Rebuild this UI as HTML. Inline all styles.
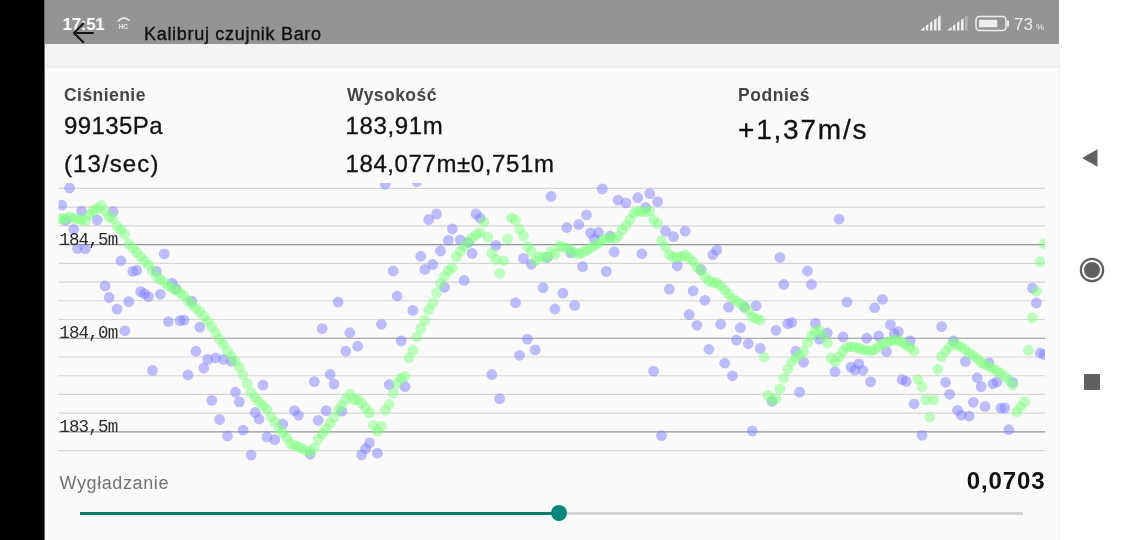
<!DOCTYPE html>
<html><head><meta charset="utf-8">
<style>
*{margin:0;padding:0;box-sizing:border-box}
html,body{width:1124px;height:540px;overflow:hidden;background:#fff;font-family:"Liberation Sans",sans-serif}
#blk{position:absolute;left:0;top:0;width:44px;height:540px;background:#000}
#app{position:absolute;left:44px;top:0;width:1015px;height:540px;background:#fafafa;overflow:hidden}
#sb{position:absolute;left:0;top:0;width:1015px;height:44px;background:#949494}
#tb{position:absolute;left:0;top:44px;width:1015px;height:22px;background:#f4f4f4;box-shadow:0 1px 2px rgba(0,0,0,.10)}
.t{position:absolute;white-space:nowrap;line-height:1}
#time{left:18.5px;top:15.5px;font-size:17px;font-weight:bold;color:#fff;letter-spacing:-0.3px}
#title{left:100px;top:25px;font-size:18px;color:#111;letter-spacing:0.7px;-webkit-text-stroke:0.35px #111}
.lbl{font-size:17.5px;font-weight:bold;color:#444}
.val{font-size:24px;color:#111;-webkit-text-stroke:0.3px #111}
#nav{position:absolute;left:1060px;top:0;width:64px;height:540px;background:#fff}
.mono{font-family:"DejaVu Sans Mono",monospace;font-size:16px;color:#333}
</style></head><body>
<div id="blk"></div>
<div id="app">
  <div id="tb"></div>
  <div id="sb"></div>
  <div class="t" id="time">17:51</div>
  <svg style="position:absolute;left:0;top:0" width="1015" height="66">
    <!-- HC icon -->
    <path d="M73.8 21.5 Q79 15.5 85.5 20.5" stroke="#e6e6e6" stroke-width="1.7" fill="none"/>
    <text x="74.6" y="28.6" font-family="Liberation Sans" font-size="6.6" font-weight="bold" fill="#e6e6e6">HC</text>
    <!-- back arrow -->
    <path d="M30 32.9 H49.7 M39.8 23 L30 32.9 L39.8 42.7" stroke="#111" stroke-width="2" fill="none"/>
    <!-- signal icons -->
    <g><polygon points="876.1,30.4 880.6,26.7 880.6,30.4" fill="#f0f0f0"/><polygon points="881.9,25.8 884.3,24.1 884.3,30.4 881.9,30.4" fill="#f0f0f0"/><polygon points="886.0,22.8 888.4,21.1 888.4,30.4 886.0,30.4" fill="#f0f0f0"/><polygon points="890.0,20.0 892.6,18.1 892.6,30.4 890.0,30.4" fill="#f0f0f0"/><polygon points="894.0,17.1 896.6,15.2 896.6,30.4 894.0,30.4" fill="#f0f0f0"/><polygon points="903.1,30.4 907.6,26.7 907.6,30.4" fill="#f0f0f0"/><polygon points="908.9,25.8 911.3,24.1 911.3,30.4 908.9,30.4" fill="#f0f0f0"/><polygon points="913.0,22.8 915.4,21.1 915.4,30.4 913.0,30.4" fill="#f0f0f0"/><polygon points="917.0,20.0 919.6,18.1 919.6,30.4 917.0,30.4" fill="#f0f0f0"/><polygon points="921.0,17.1 923.6,15.2 923.6,30.4 921.0,30.4" fill="#b4b4b4"/></g>
    <rect x="932" y="16.5" width="30" height="14" rx="3.5" fill="none" stroke="#eee" stroke-width="1.5"/>
    <rect x="935" y="19.8" width="18.2" height="7.5" fill="#eee"/>
    <rect x="963" y="20.5" width="2" height="6" fill="#eee"/>
    <text x="970" y="30" font-family="Liberation Sans" font-size="17" fill="#eee">73</text>
    <text x="992" y="30" font-family="Liberation Sans" font-size="9" fill="#eee">%</text>
  </svg>
  <div class="t" id="title">Kalibruj czujnik Baro</div>

  <div class="t lbl" style="left:20px;top:86.5px;letter-spacing:0.45px">Ciśnienie</div>
  <div class="t val" style="left:20px;top:114px;letter-spacing:0.4px">99135Pa</div>
  <div class="t val" style="left:20px;top:151.8px;letter-spacing:1.1px">(13/sec)</div>

  <div class="t lbl" style="left:303px;top:86.5px;letter-spacing:0.45px">Wysokość</div>
  <div class="t val" style="left:301.5px;top:114px;letter-spacing:0.65px">183,91m</div>
  <div class="t val" style="left:301.5px;top:151.8px;letter-spacing:0.6px">184,077m±0,751m</div>

  <div class="t lbl" style="left:694px;top:86.5px;letter-spacing:0.55px">Podnieś</div>
  <div class="t val" style="left:694px;top:116px;font-size:28px;letter-spacing:1.8px">+1,37m/s</div>

  <svg id="chart" style="position:absolute;left:0;top:0" width="1015" height="540">
    <defs><clipPath id="cp"><rect x="14.5" y="183" width="986.5" height="300"/></clipPath></defs>
    <g id="grid"><line x1="14.5" x2="1001" y1="188.40" y2="188.40" stroke="#d5d5d5" stroke-width="1.15"/><line x1="14.5" x2="1001" y1="207.13" y2="207.13" stroke="#d5d5d5" stroke-width="1.15"/><line x1="14.5" x2="1001" y1="225.86" y2="225.86" stroke="#d5d5d5" stroke-width="1.15"/><line x1="14.5" x2="1001" y1="244.59" y2="244.59" stroke="#939393" stroke-width="1.15"/><line x1="14.5" x2="1001" y1="263.32" y2="263.32" stroke="#d5d5d5" stroke-width="1.15"/><line x1="14.5" x2="1001" y1="282.05" y2="282.05" stroke="#d5d5d5" stroke-width="1.15"/><line x1="14.5" x2="1001" y1="300.78" y2="300.78" stroke="#d5d5d5" stroke-width="1.15"/><line x1="14.5" x2="1001" y1="319.51" y2="319.51" stroke="#d5d5d5" stroke-width="1.15"/><line x1="14.5" x2="1001" y1="338.24" y2="338.24" stroke="#939393" stroke-width="1.15"/><line x1="14.5" x2="1001" y1="356.97" y2="356.97" stroke="#d5d5d5" stroke-width="1.15"/><line x1="14.5" x2="1001" y1="375.70" y2="375.70" stroke="#d5d5d5" stroke-width="1.15"/><line x1="14.5" x2="1001" y1="394.43" y2="394.43" stroke="#d5d5d5" stroke-width="1.15"/><line x1="14.5" x2="1001" y1="413.16" y2="413.16" stroke="#d5d5d5" stroke-width="1.15"/><line x1="14.5" x2="1001" y1="431.89" y2="431.89" stroke="#939393" stroke-width="1.15"/><line x1="14.5" x2="1001" y1="450.62" y2="450.62" stroke="#d5d5d5" stroke-width="1.15"/></g>
    <g clip-path="url(#cp)"><circle cx="17.7" cy="205.1" r="5.4" fill="rgba(128,128,255,0.5)"/><circle cx="21.7" cy="220.4" r="5.4" fill="rgba(128,128,255,0.5)"/><circle cx="25.6" cy="188.0" r="5.4" fill="rgba(128,128,255,0.5)"/><circle cx="29.6" cy="229.3" r="5.4" fill="rgba(128,128,255,0.5)"/><circle cx="33.5" cy="248.6" r="5.4" fill="rgba(128,128,255,0.5)"/><circle cx="37.5" cy="211.2" r="5.4" fill="rgba(128,128,255,0.5)"/><circle cx="41.4" cy="248.6" r="5.4" fill="rgba(128,128,255,0.5)"/><circle cx="53.2" cy="219.9" r="5.4" fill="rgba(128,128,255,0.5)"/><circle cx="61.1" cy="286.0" r="5.4" fill="rgba(128,128,255,0.5)"/><circle cx="65.1" cy="297.5" r="5.4" fill="rgba(128,128,255,0.5)"/><circle cx="69.0" cy="211.6" r="5.4" fill="rgba(128,128,255,0.5)"/><circle cx="73.0" cy="309.1" r="5.4" fill="rgba(128,128,255,0.5)"/><circle cx="76.9" cy="260.8" r="5.4" fill="rgba(128,128,255,0.5)"/><circle cx="80.9" cy="330.8" r="5.4" fill="rgba(128,128,255,0.5)"/><circle cx="84.8" cy="301.6" r="5.4" fill="rgba(128,128,255,0.5)"/><circle cx="88.8" cy="271.4" r="5.4" fill="rgba(128,128,255,0.5)"/><circle cx="92.7" cy="270.4" r="5.4" fill="rgba(128,128,255,0.5)"/><circle cx="96.7" cy="291.6" r="5.4" fill="rgba(128,128,255,0.5)"/><circle cx="100.6" cy="293.8" r="5.4" fill="rgba(128,128,255,0.5)"/><circle cx="104.5" cy="296.6" r="5.4" fill="rgba(128,128,255,0.5)"/><circle cx="108.5" cy="370.4" r="5.4" fill="rgba(128,128,255,0.5)"/><circle cx="112.4" cy="271.4" r="5.4" fill="rgba(128,128,255,0.5)"/><circle cx="116.4" cy="294.3" r="5.4" fill="rgba(128,128,255,0.5)"/><circle cx="120.3" cy="253.8" r="5.4" fill="rgba(128,128,255,0.5)"/><circle cx="124.3" cy="321.6" r="5.4" fill="rgba(128,128,255,0.5)"/><circle cx="128.2" cy="283.2" r="5.4" fill="rgba(128,128,255,0.5)"/><circle cx="132.2" cy="289.2" r="5.4" fill="rgba(128,128,255,0.5)"/><circle cx="136.1" cy="320.6" r="5.4" fill="rgba(128,128,255,0.5)"/><circle cx="140.1" cy="320.1" r="5.4" fill="rgba(128,128,255,0.5)"/><circle cx="144.0" cy="374.9" r="5.4" fill="rgba(128,128,255,0.5)"/><circle cx="147.9" cy="301.2" r="5.4" fill="rgba(128,128,255,0.5)"/><circle cx="151.9" cy="351.2" r="5.4" fill="rgba(128,128,255,0.5)"/><circle cx="155.8" cy="327.1" r="5.4" fill="rgba(128,128,255,0.5)"/><circle cx="159.8" cy="368.0" r="5.4" fill="rgba(128,128,255,0.5)"/><circle cx="163.7" cy="359.5" r="5.4" fill="rgba(128,128,255,0.5)"/><circle cx="167.7" cy="400.4" r="5.4" fill="rgba(128,128,255,0.5)"/><circle cx="171.6" cy="358.0" r="5.4" fill="rgba(128,128,255,0.5)"/><circle cx="175.6" cy="419.5" r="5.4" fill="rgba(128,128,255,0.5)"/><circle cx="179.5" cy="359.5" r="5.4" fill="rgba(128,128,255,0.5)"/><circle cx="183.5" cy="436.0" r="5.4" fill="rgba(128,128,255,0.5)"/><circle cx="187.4" cy="361.4" r="5.4" fill="rgba(128,128,255,0.5)"/><circle cx="191.4" cy="392.1" r="5.4" fill="rgba(128,128,255,0.5)"/><circle cx="195.3" cy="401.9" r="5.4" fill="rgba(128,128,255,0.5)"/><circle cx="199.2" cy="430.1" r="5.4" fill="rgba(128,128,255,0.5)"/><circle cx="207.1" cy="455.1" r="5.4" fill="rgba(128,128,255,0.5)"/><circle cx="211.1" cy="412.5" r="5.4" fill="rgba(128,128,255,0.5)"/><circle cx="215.0" cy="419.0" r="5.4" fill="rgba(128,128,255,0.5)"/><circle cx="219.0" cy="385.1" r="5.4" fill="rgba(128,128,255,0.5)"/><circle cx="222.9" cy="436.9" r="5.4" fill="rgba(128,128,255,0.5)"/><circle cx="230.8" cy="439.7" r="5.4" fill="rgba(128,128,255,0.5)"/><circle cx="238.7" cy="424.1" r="5.4" fill="rgba(128,128,255,0.5)"/><circle cx="250.5" cy="410.6" r="5.4" fill="rgba(128,128,255,0.5)"/><circle cx="254.5" cy="415.3" r="5.4" fill="rgba(128,128,255,0.5)"/><circle cx="266.3" cy="454.1" r="5.4" fill="rgba(128,128,255,0.5)"/><circle cx="270.3" cy="381.6" r="5.4" fill="rgba(128,128,255,0.5)"/><circle cx="274.2" cy="420.3" r="5.4" fill="rgba(128,128,255,0.5)"/><circle cx="278.2" cy="328.6" r="5.4" fill="rgba(128,128,255,0.5)"/><circle cx="282.1" cy="410.6" r="5.4" fill="rgba(128,128,255,0.5)"/><circle cx="286.1" cy="374.5" r="5.4" fill="rgba(128,128,255,0.5)"/><circle cx="290.0" cy="384.1" r="5.4" fill="rgba(128,128,255,0.5)"/><circle cx="294.0" cy="302.1" r="5.4" fill="rgba(128,128,255,0.5)"/><circle cx="297.9" cy="411.2" r="5.4" fill="rgba(128,128,255,0.5)"/><circle cx="301.8" cy="351.2" r="5.4" fill="rgba(128,128,255,0.5)"/><circle cx="305.8" cy="332.7" r="5.4" fill="rgba(128,128,255,0.5)"/><circle cx="313.7" cy="346.2" r="5.4" fill="rgba(128,128,255,0.5)"/><circle cx="317.6" cy="455.0" r="5.4" fill="rgba(128,128,255,0.5)"/><circle cx="321.6" cy="448.6" r="5.4" fill="rgba(128,128,255,0.5)"/><circle cx="325.5" cy="443.0" r="5.4" fill="rgba(128,128,255,0.5)"/><circle cx="333.4" cy="453.2" r="5.4" fill="rgba(128,128,255,0.5)"/><circle cx="337.4" cy="324.3" r="5.4" fill="rgba(128,128,255,0.5)"/><circle cx="341.3" cy="184.3" r="5.4" fill="rgba(128,128,255,0.5)"/><circle cx="345.2" cy="384.7" r="5.4" fill="rgba(128,128,255,0.5)"/><circle cx="349.2" cy="271.0" r="5.4" fill="rgba(128,128,255,0.5)"/><circle cx="353.1" cy="296.0" r="5.4" fill="rgba(128,128,255,0.5)"/><circle cx="357.1" cy="341.0" r="5.4" fill="rgba(128,128,255,0.5)"/><circle cx="361.0" cy="386.6" r="5.4" fill="rgba(128,128,255,0.5)"/><circle cx="368.9" cy="310.4" r="5.4" fill="rgba(128,128,255,0.5)"/><circle cx="372.9" cy="181.6" r="5.4" fill="rgba(128,128,255,0.5)"/><circle cx="376.8" cy="256.2" r="5.4" fill="rgba(128,128,255,0.5)"/><circle cx="380.8" cy="269.5" r="5.4" fill="rgba(128,128,255,0.5)"/><circle cx="384.7" cy="219.5" r="5.4" fill="rgba(128,128,255,0.5)"/><circle cx="388.7" cy="264.5" r="5.4" fill="rgba(128,128,255,0.5)"/><circle cx="392.6" cy="214.0" r="5.4" fill="rgba(128,128,255,0.5)"/><circle cx="396.5" cy="251.0" r="5.4" fill="rgba(128,128,255,0.5)"/><circle cx="400.5" cy="287.3" r="5.4" fill="rgba(128,128,255,0.5)"/><circle cx="404.4" cy="240.3" r="5.4" fill="rgba(128,128,255,0.5)"/><circle cx="408.4" cy="228.8" r="5.4" fill="rgba(128,128,255,0.5)"/><circle cx="416.3" cy="239.9" r="5.4" fill="rgba(128,128,255,0.5)"/><circle cx="420.2" cy="280.4" r="5.4" fill="rgba(128,128,255,0.5)"/><circle cx="424.2" cy="242.7" r="5.4" fill="rgba(128,128,255,0.5)"/><circle cx="428.1" cy="253.4" r="5.4" fill="rgba(128,128,255,0.5)"/><circle cx="432.1" cy="214.0" r="5.4" fill="rgba(128,128,255,0.5)"/><circle cx="436.0" cy="218.2" r="5.4" fill="rgba(128,128,255,0.5)"/><circle cx="447.8" cy="374.5" r="5.4" fill="rgba(128,128,255,0.5)"/><circle cx="451.8" cy="245.4" r="5.4" fill="rgba(128,128,255,0.5)"/><circle cx="455.7" cy="398.6" r="5.4" fill="rgba(128,128,255,0.5)"/><circle cx="471.5" cy="302.7" r="5.4" fill="rgba(128,128,255,0.5)"/><circle cx="475.5" cy="355.3" r="5.4" fill="rgba(128,128,255,0.5)"/><circle cx="479.4" cy="258.4" r="5.4" fill="rgba(128,128,255,0.5)"/><circle cx="483.4" cy="339.1" r="5.4" fill="rgba(128,128,255,0.5)"/><circle cx="487.3" cy="264.3" r="5.4" fill="rgba(128,128,255,0.5)"/><circle cx="491.2" cy="349.9" r="5.4" fill="rgba(128,128,255,0.5)"/><circle cx="499.1" cy="287.7" r="5.4" fill="rgba(128,128,255,0.5)"/><circle cx="503.1" cy="257.5" r="5.4" fill="rgba(128,128,255,0.5)"/><circle cx="507.0" cy="196.4" r="5.4" fill="rgba(128,128,255,0.5)"/><circle cx="511.0" cy="309.0" r="5.4" fill="rgba(128,128,255,0.5)"/><circle cx="518.9" cy="293.2" r="5.4" fill="rgba(128,128,255,0.5)"/><circle cx="522.8" cy="227.5" r="5.4" fill="rgba(128,128,255,0.5)"/><circle cx="526.8" cy="252.9" r="5.4" fill="rgba(128,128,255,0.5)"/><circle cx="530.7" cy="305.4" r="5.4" fill="rgba(128,128,255,0.5)"/><circle cx="534.7" cy="224.5" r="5.4" fill="rgba(128,128,255,0.5)"/><circle cx="538.6" cy="266.7" r="5.4" fill="rgba(128,128,255,0.5)"/><circle cx="542.5" cy="214.9" r="5.4" fill="rgba(128,128,255,0.5)"/><circle cx="546.5" cy="233.0" r="5.4" fill="rgba(128,128,255,0.5)"/><circle cx="550.4" cy="239.0" r="5.4" fill="rgba(128,128,255,0.5)"/><circle cx="554.4" cy="232.5" r="5.4" fill="rgba(128,128,255,0.5)"/><circle cx="558.3" cy="189.0" r="5.4" fill="rgba(128,128,255,0.5)"/><circle cx="562.3" cy="271.4" r="5.4" fill="rgba(128,128,255,0.5)"/><circle cx="566.2" cy="236.2" r="5.4" fill="rgba(128,128,255,0.5)"/><circle cx="570.2" cy="251.9" r="5.4" fill="rgba(128,128,255,0.5)"/><circle cx="574.1" cy="200.1" r="5.4" fill="rgba(128,128,255,0.5)"/><circle cx="582.0" cy="202.9" r="5.4" fill="rgba(128,128,255,0.5)"/><circle cx="593.8" cy="197.7" r="5.4" fill="rgba(128,128,255,0.5)"/><circle cx="597.8" cy="253.8" r="5.4" fill="rgba(128,128,255,0.5)"/><circle cx="601.7" cy="207.5" r="5.4" fill="rgba(128,128,255,0.5)"/><circle cx="605.7" cy="193.6" r="5.4" fill="rgba(128,128,255,0.5)"/><circle cx="609.6" cy="371.2" r="5.4" fill="rgba(128,128,255,0.5)"/><circle cx="613.6" cy="201.6" r="5.4" fill="rgba(128,128,255,0.5)"/><circle cx="617.5" cy="435.6" r="5.4" fill="rgba(128,128,255,0.5)"/><circle cx="621.5" cy="231.2" r="5.4" fill="rgba(128,128,255,0.5)"/><circle cx="625.4" cy="289.1" r="5.4" fill="rgba(128,128,255,0.5)"/><circle cx="629.4" cy="236.6" r="5.4" fill="rgba(128,128,255,0.5)"/><circle cx="633.3" cy="265.8" r="5.4" fill="rgba(128,128,255,0.5)"/><circle cx="641.2" cy="231.2" r="5.4" fill="rgba(128,128,255,0.5)"/><circle cx="645.1" cy="314.5" r="5.4" fill="rgba(128,128,255,0.5)"/><circle cx="649.1" cy="291.0" r="5.4" fill="rgba(128,128,255,0.5)"/><circle cx="653.0" cy="325.3" r="5.4" fill="rgba(128,128,255,0.5)"/><circle cx="657.0" cy="269.5" r="5.4" fill="rgba(128,128,255,0.5)"/><circle cx="660.9" cy="300.3" r="5.4" fill="rgba(128,128,255,0.5)"/><circle cx="664.9" cy="349.3" r="5.4" fill="rgba(128,128,255,0.5)"/><circle cx="668.8" cy="254.7" r="5.4" fill="rgba(128,128,255,0.5)"/><circle cx="672.8" cy="250.1" r="5.4" fill="rgba(128,128,255,0.5)"/><circle cx="676.7" cy="324.3" r="5.4" fill="rgba(128,128,255,0.5)"/><circle cx="680.7" cy="363.2" r="5.4" fill="rgba(128,128,255,0.5)"/><circle cx="684.6" cy="307.1" r="5.4" fill="rgba(128,128,255,0.5)"/><circle cx="688.5" cy="375.8" r="5.4" fill="rgba(128,128,255,0.5)"/><circle cx="692.5" cy="340.1" r="5.4" fill="rgba(128,128,255,0.5)"/><circle cx="696.4" cy="327.7" r="5.4" fill="rgba(128,128,255,0.5)"/><circle cx="700.4" cy="307.1" r="5.4" fill="rgba(128,128,255,0.5)"/><circle cx="704.3" cy="343.8" r="5.4" fill="rgba(128,128,255,0.5)"/><circle cx="708.3" cy="431.0" r="5.4" fill="rgba(128,128,255,0.5)"/><circle cx="712.2" cy="305.8" r="5.4" fill="rgba(128,128,255,0.5)"/><circle cx="716.2" cy="348.4" r="5.4" fill="rgba(128,128,255,0.5)"/><circle cx="728.0" cy="401.4" r="5.4" fill="rgba(128,128,255,0.5)"/><circle cx="732.0" cy="330.3" r="5.4" fill="rgba(128,128,255,0.5)"/><circle cx="735.9" cy="257.5" r="5.4" fill="rgba(128,128,255,0.5)"/><circle cx="739.8" cy="284.5" r="5.4" fill="rgba(128,128,255,0.5)"/><circle cx="743.8" cy="323.8" r="5.4" fill="rgba(128,128,255,0.5)"/><circle cx="747.7" cy="322.5" r="5.4" fill="rgba(128,128,255,0.5)"/><circle cx="751.7" cy="351.2" r="5.4" fill="rgba(128,128,255,0.5)"/><circle cx="755.6" cy="392.1" r="5.4" fill="rgba(128,128,255,0.5)"/><circle cx="759.6" cy="362.3" r="5.4" fill="rgba(128,128,255,0.5)"/><circle cx="763.5" cy="271.0" r="5.4" fill="rgba(128,128,255,0.5)"/><circle cx="767.5" cy="284.5" r="5.4" fill="rgba(128,128,255,0.5)"/><circle cx="771.4" cy="323.4" r="5.4" fill="rgba(128,128,255,0.5)"/><circle cx="775.4" cy="339.1" r="5.4" fill="rgba(128,128,255,0.5)"/><circle cx="783.3" cy="333.0" r="5.4" fill="rgba(128,128,255,0.5)"/><circle cx="791.1" cy="371.7" r="5.4" fill="rgba(128,128,255,0.5)"/><circle cx="795.1" cy="219.1" r="5.4" fill="rgba(128,128,255,0.5)"/><circle cx="799.0" cy="336.9" r="5.4" fill="rgba(128,128,255,0.5)"/><circle cx="803.0" cy="302.1" r="5.4" fill="rgba(128,128,255,0.5)"/><circle cx="806.9" cy="367.1" r="5.4" fill="rgba(128,128,255,0.5)"/><circle cx="810.9" cy="369.9" r="5.4" fill="rgba(128,128,255,0.5)"/><circle cx="814.8" cy="363.8" r="5.4" fill="rgba(128,128,255,0.5)"/><circle cx="818.8" cy="370.3" r="5.4" fill="rgba(128,128,255,0.5)"/><circle cx="822.7" cy="338.2" r="5.4" fill="rgba(128,128,255,0.5)"/><circle cx="826.7" cy="381.9" r="5.4" fill="rgba(128,128,255,0.5)"/><circle cx="830.6" cy="307.7" r="5.4" fill="rgba(128,128,255,0.5)"/><circle cx="834.6" cy="336.0" r="5.4" fill="rgba(128,128,255,0.5)"/><circle cx="838.5" cy="299.3" r="5.4" fill="rgba(128,128,255,0.5)"/><circle cx="842.4" cy="351.6" r="5.4" fill="rgba(128,128,255,0.5)"/><circle cx="846.4" cy="324.9" r="5.4" fill="rgba(128,128,255,0.5)"/><circle cx="850.3" cy="333.6" r="5.4" fill="rgba(128,128,255,0.5)"/><circle cx="854.3" cy="331.7" r="5.4" fill="rgba(128,128,255,0.5)"/><circle cx="858.2" cy="379.7" r="5.4" fill="rgba(128,128,255,0.5)"/><circle cx="862.2" cy="381.4" r="5.4" fill="rgba(128,128,255,0.5)"/><circle cx="866.1" cy="341.0" r="5.4" fill="rgba(128,128,255,0.5)"/><circle cx="870.1" cy="403.8" r="5.4" fill="rgba(128,128,255,0.5)"/><circle cx="878.0" cy="435.3" r="5.4" fill="rgba(128,128,255,0.5)"/><circle cx="897.7" cy="326.6" r="5.4" fill="rgba(128,128,255,0.5)"/><circle cx="901.6" cy="382.3" r="5.4" fill="rgba(128,128,255,0.5)"/><circle cx="905.6" cy="394.3" r="5.4" fill="rgba(128,128,255,0.5)"/><circle cx="909.5" cy="341.0" r="5.4" fill="rgba(128,128,255,0.5)"/><circle cx="913.5" cy="410.3" r="5.4" fill="rgba(128,128,255,0.5)"/><circle cx="917.4" cy="415.3" r="5.4" fill="rgba(128,128,255,0.5)"/><circle cx="921.4" cy="361.5" r="5.4" fill="rgba(128,128,255,0.5)"/><circle cx="925.3" cy="416.2" r="5.4" fill="rgba(128,128,255,0.5)"/><circle cx="929.3" cy="402.3" r="5.4" fill="rgba(128,128,255,0.5)"/><circle cx="933.2" cy="377.7" r="5.4" fill="rgba(128,128,255,0.5)"/><circle cx="937.1" cy="386.6" r="5.4" fill="rgba(128,128,255,0.5)"/><circle cx="941.1" cy="406.4" r="5.4" fill="rgba(128,128,255,0.5)"/><circle cx="945.0" cy="363.0" r="5.4" fill="rgba(128,128,255,0.5)"/><circle cx="949.0" cy="383.8" r="5.4" fill="rgba(128,128,255,0.5)"/><circle cx="952.9" cy="381.9" r="5.4" fill="rgba(128,128,255,0.5)"/><circle cx="956.9" cy="408.2" r="5.4" fill="rgba(128,128,255,0.5)"/><circle cx="960.8" cy="407.9" r="5.4" fill="rgba(128,128,255,0.5)"/><circle cx="964.8" cy="429.7" r="5.4" fill="rgba(128,128,255,0.5)"/><circle cx="968.7" cy="382.3" r="5.4" fill="rgba(128,128,255,0.5)"/><circle cx="988.4" cy="288.2" r="5.4" fill="rgba(128,128,255,0.5)"/><circle cx="992.4" cy="303.0" r="5.4" fill="rgba(128,128,255,0.5)"/><circle cx="996.3" cy="353.0" r="5.4" fill="rgba(128,128,255,0.5)"/><circle cx="1000.3" cy="354.5" r="5.4" fill="rgba(128,128,255,0.5)"/><circle cx="13.8" cy="218.7" r="5.4" fill="rgba(128,255,128,0.5)"/><circle cx="17.7" cy="219.0" r="5.4" fill="rgba(128,255,128,0.5)"/><circle cx="21.7" cy="218.4" r="5.4" fill="rgba(128,255,128,0.5)"/><circle cx="25.6" cy="216.9" r="5.4" fill="rgba(128,255,128,0.5)"/><circle cx="29.6" cy="218.1" r="5.4" fill="rgba(128,255,128,0.5)"/><circle cx="33.5" cy="219.1" r="5.4" fill="rgba(128,255,128,0.5)"/><circle cx="37.5" cy="219.7" r="5.4" fill="rgba(128,255,128,0.5)"/><circle cx="41.4" cy="220.8" r="5.4" fill="rgba(128,255,128,0.5)"/><circle cx="45.4" cy="214.5" r="5.4" fill="rgba(128,255,128,0.5)"/><circle cx="49.3" cy="210.9" r="5.4" fill="rgba(128,255,128,0.5)"/><circle cx="53.2" cy="208.7" r="5.4" fill="rgba(128,255,128,0.5)"/><circle cx="57.2" cy="205.4" r="5.4" fill="rgba(128,255,128,0.5)"/><circle cx="61.1" cy="211.3" r="5.4" fill="rgba(128,255,128,0.5)"/><circle cx="65.1" cy="216.9" r="5.4" fill="rgba(128,255,128,0.5)"/><circle cx="69.0" cy="219.0" r="5.4" fill="rgba(128,255,128,0.5)"/><circle cx="73.0" cy="226.3" r="5.4" fill="rgba(128,255,128,0.5)"/><circle cx="76.9" cy="229.6" r="5.4" fill="rgba(128,255,128,0.5)"/><circle cx="80.9" cy="234.3" r="5.4" fill="rgba(128,255,128,0.5)"/><circle cx="84.8" cy="243.7" r="5.4" fill="rgba(128,255,128,0.5)"/><circle cx="88.8" cy="248.1" r="5.4" fill="rgba(128,255,128,0.5)"/><circle cx="92.7" cy="252.1" r="5.4" fill="rgba(128,255,128,0.5)"/><circle cx="96.7" cy="256.8" r="5.4" fill="rgba(128,255,128,0.5)"/><circle cx="100.6" cy="260.9" r="5.4" fill="rgba(128,255,128,0.5)"/><circle cx="104.5" cy="264.8" r="5.4" fill="rgba(128,255,128,0.5)"/><circle cx="108.5" cy="270.7" r="5.4" fill="rgba(128,255,128,0.5)"/><circle cx="112.4" cy="276.3" r="5.4" fill="rgba(128,255,128,0.5)"/><circle cx="116.4" cy="279.4" r="5.4" fill="rgba(128,255,128,0.5)"/><circle cx="120.3" cy="282.5" r="5.4" fill="rgba(128,255,128,0.5)"/><circle cx="124.3" cy="285.8" r="5.4" fill="rgba(128,255,128,0.5)"/><circle cx="128.2" cy="288.0" r="5.4" fill="rgba(128,255,128,0.5)"/><circle cx="132.2" cy="290.0" r="5.4" fill="rgba(128,255,128,0.5)"/><circle cx="136.1" cy="292.9" r="5.4" fill="rgba(128,255,128,0.5)"/><circle cx="140.1" cy="295.9" r="5.4" fill="rgba(128,255,128,0.5)"/><circle cx="144.0" cy="300.6" r="5.4" fill="rgba(128,255,128,0.5)"/><circle cx="147.9" cy="304.4" r="5.4" fill="rgba(128,255,128,0.5)"/><circle cx="151.9" cy="307.9" r="5.4" fill="rgba(128,255,128,0.5)"/><circle cx="155.8" cy="311.7" r="5.4" fill="rgba(128,255,128,0.5)"/><circle cx="159.8" cy="316.1" r="5.4" fill="rgba(128,255,128,0.5)"/><circle cx="163.7" cy="321.4" r="5.4" fill="rgba(128,255,128,0.5)"/><circle cx="167.7" cy="326.7" r="5.4" fill="rgba(128,255,128,0.5)"/><circle cx="171.6" cy="332.7" r="5.4" fill="rgba(128,255,128,0.5)"/><circle cx="175.6" cy="339.1" r="5.4" fill="rgba(128,255,128,0.5)"/><circle cx="179.5" cy="344.3" r="5.4" fill="rgba(128,255,128,0.5)"/><circle cx="183.5" cy="350.8" r="5.4" fill="rgba(128,255,128,0.5)"/><circle cx="187.4" cy="356.9" r="5.4" fill="rgba(128,255,128,0.5)"/><circle cx="191.4" cy="361.2" r="5.4" fill="rgba(128,255,128,0.5)"/><circle cx="195.3" cy="367.1" r="5.4" fill="rgba(128,255,128,0.5)"/><circle cx="199.2" cy="375.0" r="5.4" fill="rgba(128,255,128,0.5)"/><circle cx="203.2" cy="383.6" r="5.4" fill="rgba(128,255,128,0.5)"/><circle cx="207.1" cy="392.4" r="5.4" fill="rgba(128,255,128,0.5)"/><circle cx="211.1" cy="397.8" r="5.4" fill="rgba(128,255,128,0.5)"/><circle cx="215.0" cy="402.0" r="5.4" fill="rgba(128,255,128,0.5)"/><circle cx="219.0" cy="405.4" r="5.4" fill="rgba(128,255,128,0.5)"/><circle cx="222.9" cy="409.3" r="5.4" fill="rgba(128,255,128,0.5)"/><circle cx="226.9" cy="416.8" r="5.4" fill="rgba(128,255,128,0.5)"/><circle cx="230.8" cy="421.9" r="5.4" fill="rgba(128,255,128,0.5)"/><circle cx="234.8" cy="428.2" r="5.4" fill="rgba(128,255,128,0.5)"/><circle cx="238.7" cy="432.5" r="5.4" fill="rgba(128,255,128,0.5)"/><circle cx="242.7" cy="437.7" r="5.4" fill="rgba(128,255,128,0.5)"/><circle cx="246.6" cy="443.7" r="5.4" fill="rgba(128,255,128,0.5)"/><circle cx="250.5" cy="445.5" r="5.4" fill="rgba(128,255,128,0.5)"/><circle cx="254.5" cy="446.8" r="5.4" fill="rgba(128,255,128,0.5)"/><circle cx="258.4" cy="448.8" r="5.4" fill="rgba(128,255,128,0.5)"/><circle cx="262.4" cy="450.8" r="5.4" fill="rgba(128,255,128,0.5)"/><circle cx="266.3" cy="451.9" r="5.4" fill="rgba(128,255,128,0.5)"/><circle cx="270.3" cy="447.8" r="5.4" fill="rgba(128,255,128,0.5)"/><circle cx="274.2" cy="439.3" r="5.4" fill="rgba(128,255,128,0.5)"/><circle cx="278.2" cy="433.7" r="5.4" fill="rgba(128,255,128,0.5)"/><circle cx="282.1" cy="428.9" r="5.4" fill="rgba(128,255,128,0.5)"/><circle cx="286.1" cy="423.4" r="5.4" fill="rgba(128,255,128,0.5)"/><circle cx="290.0" cy="417.6" r="5.4" fill="rgba(128,255,128,0.5)"/><circle cx="294.0" cy="410.1" r="5.4" fill="rgba(128,255,128,0.5)"/><circle cx="297.9" cy="405.2" r="5.4" fill="rgba(128,255,128,0.5)"/><circle cx="301.8" cy="399.4" r="5.4" fill="rgba(128,255,128,0.5)"/><circle cx="305.8" cy="394.1" r="5.4" fill="rgba(128,255,128,0.5)"/><circle cx="309.7" cy="399.5" r="5.4" fill="rgba(128,255,128,0.5)"/><circle cx="313.7" cy="399.5" r="5.4" fill="rgba(128,255,128,0.5)"/><circle cx="317.6" cy="403.1" r="5.4" fill="rgba(128,255,128,0.5)"/><circle cx="321.6" cy="408.1" r="5.4" fill="rgba(128,255,128,0.5)"/><circle cx="325.5" cy="412.9" r="5.4" fill="rgba(128,255,128,0.5)"/><circle cx="329.5" cy="425.3" r="5.4" fill="rgba(128,255,128,0.5)"/><circle cx="333.4" cy="430.9" r="5.4" fill="rgba(128,255,128,0.5)"/><circle cx="337.4" cy="426.3" r="5.4" fill="rgba(128,255,128,0.5)"/><circle cx="341.3" cy="410.3" r="5.4" fill="rgba(128,255,128,0.5)"/><circle cx="345.2" cy="404.4" r="5.4" fill="rgba(128,255,128,0.5)"/><circle cx="349.2" cy="393.0" r="5.4" fill="rgba(128,255,128,0.5)"/><circle cx="353.1" cy="383.4" r="5.4" fill="rgba(128,255,128,0.5)"/><circle cx="357.1" cy="378.0" r="5.4" fill="rgba(128,255,128,0.5)"/><circle cx="361.0" cy="376.5" r="5.4" fill="rgba(128,255,128,0.5)"/><circle cx="365.0" cy="357.9" r="5.4" fill="rgba(128,255,128,0.5)"/><circle cx="368.9" cy="350.4" r="5.4" fill="rgba(128,255,128,0.5)"/><circle cx="372.9" cy="336.9" r="5.4" fill="rgba(128,255,128,0.5)"/><circle cx="376.8" cy="328.4" r="5.4" fill="rgba(128,255,128,0.5)"/><circle cx="380.8" cy="320.4" r="5.4" fill="rgba(128,255,128,0.5)"/><circle cx="384.7" cy="309.9" r="5.4" fill="rgba(128,255,128,0.5)"/><circle cx="388.7" cy="303.1" r="5.4" fill="rgba(128,255,128,0.5)"/><circle cx="392.6" cy="292.9" r="5.4" fill="rgba(128,255,128,0.5)"/><circle cx="396.5" cy="283.4" r="5.4" fill="rgba(128,255,128,0.5)"/><circle cx="400.5" cy="276.1" r="5.4" fill="rgba(128,255,128,0.5)"/><circle cx="404.4" cy="270.7" r="5.4" fill="rgba(128,255,128,0.5)"/><circle cx="408.4" cy="267.9" r="5.4" fill="rgba(128,255,128,0.5)"/><circle cx="412.3" cy="256.8" r="5.4" fill="rgba(128,255,128,0.5)"/><circle cx="416.3" cy="251.1" r="5.4" fill="rgba(128,255,128,0.5)"/><circle cx="420.2" cy="246.2" r="5.4" fill="rgba(128,255,128,0.5)"/><circle cx="424.2" cy="242.0" r="5.4" fill="rgba(128,255,128,0.5)"/><circle cx="428.1" cy="238.1" r="5.4" fill="rgba(128,255,128,0.5)"/><circle cx="432.1" cy="234.7" r="5.4" fill="rgba(128,255,128,0.5)"/><circle cx="436.0" cy="232.7" r="5.4" fill="rgba(128,255,128,0.5)"/><circle cx="440.0" cy="222.0" r="5.4" fill="rgba(128,255,128,0.5)"/><circle cx="443.9" cy="237.1" r="5.4" fill="rgba(128,255,128,0.5)"/><circle cx="447.8" cy="253.0" r="5.4" fill="rgba(128,255,128,0.5)"/><circle cx="451.8" cy="259.6" r="5.4" fill="rgba(128,255,128,0.5)"/><circle cx="455.7" cy="273.3" r="5.4" fill="rgba(128,255,128,0.5)"/><circle cx="459.7" cy="260.7" r="5.4" fill="rgba(128,255,128,0.5)"/><circle cx="463.6" cy="238.8" r="5.4" fill="rgba(128,255,128,0.5)"/><circle cx="467.6" cy="218.0" r="5.4" fill="rgba(128,255,128,0.5)"/><circle cx="471.5" cy="219.9" r="5.4" fill="rgba(128,255,128,0.5)"/><circle cx="475.5" cy="229.1" r="5.4" fill="rgba(128,255,128,0.5)"/><circle cx="479.4" cy="235.6" r="5.4" fill="rgba(128,255,128,0.5)"/><circle cx="483.4" cy="246.3" r="5.4" fill="rgba(128,255,128,0.5)"/><circle cx="487.3" cy="251.5" r="5.4" fill="rgba(128,255,128,0.5)"/><circle cx="491.2" cy="261.1" r="5.4" fill="rgba(128,255,128,0.5)"/><circle cx="495.2" cy="256.6" r="5.4" fill="rgba(128,255,128,0.5)"/><circle cx="499.1" cy="256.9" r="5.4" fill="rgba(128,255,128,0.5)"/><circle cx="503.1" cy="257.5" r="5.4" fill="rgba(128,255,128,0.5)"/><circle cx="507.0" cy="252.0" r="5.4" fill="rgba(128,255,128,0.5)"/><circle cx="511.0" cy="254.4" r="5.4" fill="rgba(128,255,128,0.5)"/><circle cx="514.9" cy="245.8" r="5.4" fill="rgba(128,255,128,0.5)"/><circle cx="518.9" cy="246.9" r="5.4" fill="rgba(128,255,128,0.5)"/><circle cx="522.8" cy="248.3" r="5.4" fill="rgba(128,255,128,0.5)"/><circle cx="526.8" cy="250.1" r="5.4" fill="rgba(128,255,128,0.5)"/><circle cx="530.7" cy="252.8" r="5.4" fill="rgba(128,255,128,0.5)"/><circle cx="534.7" cy="253.6" r="5.4" fill="rgba(128,255,128,0.5)"/><circle cx="538.6" cy="252.5" r="5.4" fill="rgba(128,255,128,0.5)"/><circle cx="542.5" cy="250.4" r="5.4" fill="rgba(128,255,128,0.5)"/><circle cx="546.5" cy="248.1" r="5.4" fill="rgba(128,255,128,0.5)"/><circle cx="550.4" cy="245.8" r="5.4" fill="rgba(128,255,128,0.5)"/><circle cx="554.4" cy="243.3" r="5.4" fill="rgba(128,255,128,0.5)"/><circle cx="558.3" cy="240.7" r="5.4" fill="rgba(128,255,128,0.5)"/><circle cx="562.3" cy="238.5" r="5.4" fill="rgba(128,255,128,0.5)"/><circle cx="566.2" cy="237.5" r="5.4" fill="rgba(128,255,128,0.5)"/><circle cx="570.2" cy="238.8" r="5.4" fill="rgba(128,255,128,0.5)"/><circle cx="574.1" cy="236.3" r="5.4" fill="rgba(128,255,128,0.5)"/><circle cx="578.1" cy="229.8" r="5.4" fill="rgba(128,255,128,0.5)"/><circle cx="582.0" cy="225.7" r="5.4" fill="rgba(128,255,128,0.5)"/><circle cx="586.0" cy="219.6" r="5.4" fill="rgba(128,255,128,0.5)"/><circle cx="589.9" cy="213.3" r="5.4" fill="rgba(128,255,128,0.5)"/><circle cx="593.8" cy="211.1" r="5.4" fill="rgba(128,255,128,0.5)"/><circle cx="597.8" cy="211.7" r="5.4" fill="rgba(128,255,128,0.5)"/><circle cx="601.7" cy="211.7" r="5.4" fill="rgba(128,255,128,0.5)"/><circle cx="605.7" cy="210.8" r="5.4" fill="rgba(128,255,128,0.5)"/><circle cx="609.6" cy="219.5" r="5.4" fill="rgba(128,255,128,0.5)"/><circle cx="613.6" cy="223.4" r="5.4" fill="rgba(128,255,128,0.5)"/><circle cx="617.5" cy="240.6" r="5.4" fill="rgba(128,255,128,0.5)"/><circle cx="621.5" cy="247.0" r="5.4" fill="rgba(128,255,128,0.5)"/><circle cx="625.4" cy="254.5" r="5.4" fill="rgba(128,255,128,0.5)"/><circle cx="629.4" cy="257.0" r="5.4" fill="rgba(128,255,128,0.5)"/><circle cx="633.3" cy="257.5" r="5.4" fill="rgba(128,255,128,0.5)"/><circle cx="637.3" cy="256.7" r="5.4" fill="rgba(128,255,128,0.5)"/><circle cx="641.2" cy="254.8" r="5.4" fill="rgba(128,255,128,0.5)"/><circle cx="645.1" cy="257.8" r="5.4" fill="rgba(128,255,128,0.5)"/><circle cx="649.1" cy="261.6" r="5.4" fill="rgba(128,255,128,0.5)"/><circle cx="653.0" cy="267.3" r="5.4" fill="rgba(128,255,128,0.5)"/><circle cx="657.0" cy="270.7" r="5.4" fill="rgba(128,255,128,0.5)"/><circle cx="660.9" cy="276.8" r="5.4" fill="rgba(128,255,128,0.5)"/><circle cx="664.9" cy="280.5" r="5.4" fill="rgba(128,255,128,0.5)"/><circle cx="668.8" cy="282.6" r="5.4" fill="rgba(128,255,128,0.5)"/><circle cx="672.8" cy="282.7" r="5.4" fill="rgba(128,255,128,0.5)"/><circle cx="676.7" cy="285.6" r="5.4" fill="rgba(128,255,128,0.5)"/><circle cx="680.7" cy="290.3" r="5.4" fill="rgba(128,255,128,0.5)"/><circle cx="684.6" cy="293.7" r="5.4" fill="rgba(128,255,128,0.5)"/><circle cx="688.5" cy="298.4" r="5.4" fill="rgba(128,255,128,0.5)"/><circle cx="692.5" cy="301.1" r="5.4" fill="rgba(128,255,128,0.5)"/><circle cx="696.4" cy="303.7" r="5.4" fill="rgba(128,255,128,0.5)"/><circle cx="700.4" cy="306.6" r="5.4" fill="rgba(128,255,128,0.5)"/><circle cx="704.3" cy="310.6" r="5.4" fill="rgba(128,255,128,0.5)"/><circle cx="708.3" cy="317.1" r="5.4" fill="rgba(128,255,128,0.5)"/><circle cx="712.2" cy="318.6" r="5.4" fill="rgba(128,255,128,0.5)"/><circle cx="716.2" cy="320.2" r="5.4" fill="rgba(128,255,128,0.5)"/><circle cx="720.1" cy="357.2" r="5.4" fill="rgba(128,255,128,0.5)"/><circle cx="724.1" cy="395.4" r="5.4" fill="rgba(128,255,128,0.5)"/><circle cx="728.0" cy="400.5" r="5.4" fill="rgba(128,255,128,0.5)"/><circle cx="732.0" cy="398.6" r="5.4" fill="rgba(128,255,128,0.5)"/><circle cx="735.9" cy="388.8" r="5.4" fill="rgba(128,255,128,0.5)"/><circle cx="739.8" cy="378.1" r="5.4" fill="rgba(128,255,128,0.5)"/><circle cx="743.8" cy="369.3" r="5.4" fill="rgba(128,255,128,0.5)"/><circle cx="747.7" cy="362.1" r="5.4" fill="rgba(128,255,128,0.5)"/><circle cx="751.7" cy="357.7" r="5.4" fill="rgba(128,255,128,0.5)"/><circle cx="755.6" cy="354.9" r="5.4" fill="rgba(128,255,128,0.5)"/><circle cx="759.6" cy="351.5" r="5.4" fill="rgba(128,255,128,0.5)"/><circle cx="763.5" cy="342.9" r="5.4" fill="rgba(128,255,128,0.5)"/><circle cx="767.5" cy="335.9" r="5.4" fill="rgba(128,255,128,0.5)"/><circle cx="771.4" cy="331.5" r="5.4" fill="rgba(128,255,128,0.5)"/><circle cx="775.4" cy="330.2" r="5.4" fill="rgba(128,255,128,0.5)"/><circle cx="779.3" cy="336.0" r="5.4" fill="rgba(128,255,128,0.5)"/><circle cx="783.3" cy="342.9" r="5.4" fill="rgba(128,255,128,0.5)"/><circle cx="787.2" cy="358.0" r="5.4" fill="rgba(128,255,128,0.5)"/><circle cx="791.1" cy="362.0" r="5.4" fill="rgba(128,255,128,0.5)"/><circle cx="795.1" cy="357.0" r="5.4" fill="rgba(128,255,128,0.5)"/><circle cx="799.0" cy="351.2" r="5.4" fill="rgba(128,255,128,0.5)"/><circle cx="803.0" cy="347.3" r="5.4" fill="rgba(128,255,128,0.5)"/><circle cx="806.9" cy="346.6" r="5.4" fill="rgba(128,255,128,0.5)"/><circle cx="810.9" cy="347.2" r="5.4" fill="rgba(128,255,128,0.5)"/><circle cx="814.8" cy="348.2" r="5.4" fill="rgba(128,255,128,0.5)"/><circle cx="818.8" cy="349.4" r="5.4" fill="rgba(128,255,128,0.5)"/><circle cx="822.7" cy="350.1" r="5.4" fill="rgba(128,255,128,0.5)"/><circle cx="826.7" cy="350.8" r="5.4" fill="rgba(128,255,128,0.5)"/><circle cx="830.6" cy="349.5" r="5.4" fill="rgba(128,255,128,0.5)"/><circle cx="834.6" cy="346.5" r="5.4" fill="rgba(128,255,128,0.5)"/><circle cx="838.5" cy="343.9" r="5.4" fill="rgba(128,255,128,0.5)"/><circle cx="842.4" cy="342.5" r="5.4" fill="rgba(128,255,128,0.5)"/><circle cx="846.4" cy="341.2" r="5.4" fill="rgba(128,255,128,0.5)"/><circle cx="850.3" cy="340.1" r="5.4" fill="rgba(128,255,128,0.5)"/><circle cx="854.3" cy="340.1" r="5.4" fill="rgba(128,255,128,0.5)"/><circle cx="858.2" cy="342.5" r="5.4" fill="rgba(128,255,128,0.5)"/><circle cx="862.2" cy="345.3" r="5.4" fill="rgba(128,255,128,0.5)"/><circle cx="866.1" cy="347.4" r="5.4" fill="rgba(128,255,128,0.5)"/><circle cx="870.1" cy="351.2" r="5.4" fill="rgba(128,255,128,0.5)"/><circle cx="874.0" cy="379.3" r="5.4" fill="rgba(128,255,128,0.5)"/><circle cx="878.0" cy="386.8" r="5.4" fill="rgba(128,255,128,0.5)"/><circle cx="881.9" cy="399.9" r="5.4" fill="rgba(128,255,128,0.5)"/><circle cx="885.9" cy="417.3" r="5.4" fill="rgba(128,255,128,0.5)"/><circle cx="889.8" cy="399.9" r="5.4" fill="rgba(128,255,128,0.5)"/><circle cx="893.7" cy="369.2" r="5.4" fill="rgba(128,255,128,0.5)"/><circle cx="897.7" cy="356.6" r="5.4" fill="rgba(128,255,128,0.5)"/><circle cx="901.6" cy="351.4" r="5.4" fill="rgba(128,255,128,0.5)"/><circle cx="905.6" cy="346.7" r="5.4" fill="rgba(128,255,128,0.5)"/><circle cx="909.5" cy="342.6" r="5.4" fill="rgba(128,255,128,0.5)"/><circle cx="913.5" cy="345.3" r="5.4" fill="rgba(128,255,128,0.5)"/><circle cx="917.4" cy="347.2" r="5.4" fill="rgba(128,255,128,0.5)"/><circle cx="921.4" cy="349.6" r="5.4" fill="rgba(128,255,128,0.5)"/><circle cx="925.3" cy="353.1" r="5.4" fill="rgba(128,255,128,0.5)"/><circle cx="929.3" cy="355.7" r="5.4" fill="rgba(128,255,128,0.5)"/><circle cx="933.2" cy="358.8" r="5.4" fill="rgba(128,255,128,0.5)"/><circle cx="937.1" cy="362.3" r="5.4" fill="rgba(128,255,128,0.5)"/><circle cx="941.1" cy="364.5" r="5.4" fill="rgba(128,255,128,0.5)"/><circle cx="945.0" cy="366.6" r="5.4" fill="rgba(128,255,128,0.5)"/><circle cx="949.0" cy="368.7" r="5.4" fill="rgba(128,255,128,0.5)"/><circle cx="952.9" cy="370.7" r="5.4" fill="rgba(128,255,128,0.5)"/><circle cx="956.9" cy="373.3" r="5.4" fill="rgba(128,255,128,0.5)"/><circle cx="960.8" cy="376.6" r="5.4" fill="rgba(128,255,128,0.5)"/><circle cx="964.8" cy="380.0" r="5.4" fill="rgba(128,255,128,0.5)"/><circle cx="968.7" cy="385.2" r="5.4" fill="rgba(128,255,128,0.5)"/><circle cx="972.7" cy="411.8" r="5.4" fill="rgba(128,255,128,0.5)"/><circle cx="976.6" cy="406.8" r="5.4" fill="rgba(128,255,128,0.5)"/><circle cx="980.6" cy="402.0" r="5.4" fill="rgba(128,255,128,0.5)"/><circle cx="984.5" cy="350.2" r="5.4" fill="rgba(128,255,128,0.5)"/><circle cx="988.4" cy="317.8" r="5.4" fill="rgba(128,255,128,0.5)"/><circle cx="992.4" cy="291.3" r="5.4" fill="rgba(128,255,128,0.5)"/><circle cx="996.3" cy="261.6" r="5.4" fill="rgba(128,255,128,0.5)"/><circle cx="1000.3" cy="243.6" r="5.4" fill="rgba(128,255,128,0.5)"/></g><text x="15.200000000000003" y="244.5" font-family="Liberation Mono" font-size="17.5" letter-spacing="-0.8" fill="#2a2a2a">184,5m</text><text x="15.200000000000003" y="338.2" font-family="Liberation Mono" font-size="17.5" letter-spacing="-0.8" fill="#2a2a2a">184,0m</text><text x="15.200000000000003" y="431.9" font-family="Liberation Mono" font-size="17.5" letter-spacing="-0.8" fill="#2a2a2a">183,5m</text>
  </svg>

  <div class="t" style="left:15.5px;top:474px;font-size:18px;color:#737373;letter-spacing:0.6px">Wygładzanie</div>
  <div class="t" style="right:13.5px;top:469px;font-size:24px;font-weight:bold;color:#111;letter-spacing:0.9px">0,0703</div>
  <div style="position:absolute;left:36.4px;top:512px;width:942.7px;height:2.8px;background:#d4d4d4"></div>
  <div style="position:absolute;left:36.4px;top:512px;width:478px;height:2.8px;background:#0e7c6f"></div>
  <div style="position:absolute;left:506.6px;top:505.3px;width:16.2px;height:16.2px;border-radius:50%;background:#03877a"></div>
</div>
<div style="position:absolute;left:44px;top:0;width:1px;height:540px;background:#6a6a6a"></div>
<div style="position:absolute;left:45px;top:44px;width:1px;height:496px;background:#fff"></div>
<div style="position:absolute;left:1059px;top:44px;width:1px;height:496px;background:#f1f1f1"></div>
<div id="nav">
  <svg width="65" height="540">
    <path d="M22 158 L37.5 149.3 L37.5 166.8 Z" fill="#616161"/>
    <circle cx="32" cy="270" r="11.2" fill="none" stroke="#616161" stroke-width="2.2"/>
    <circle cx="32" cy="270" r="8.1" fill="#616161"/>
    <rect x="24" y="374" width="16" height="16" fill="#616161"/>
  </svg>
</div>
</body></html>
